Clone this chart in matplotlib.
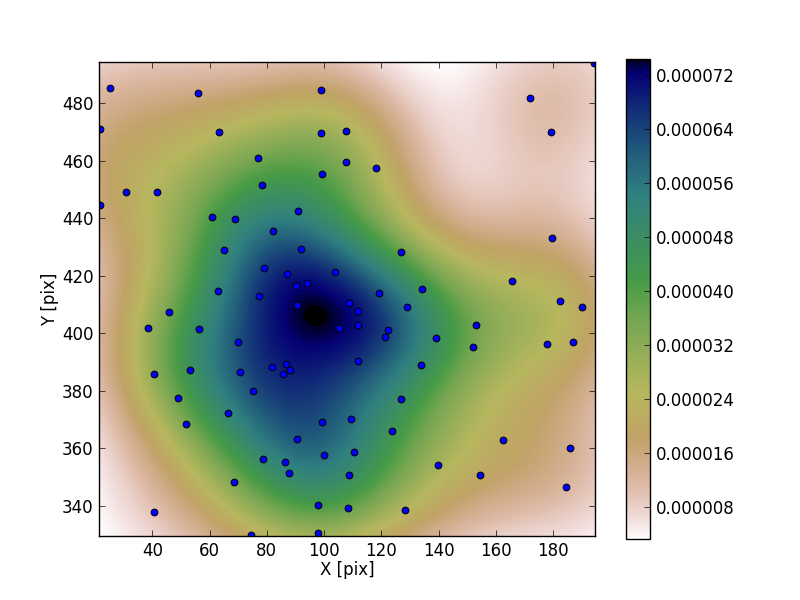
import numpy as np
import matplotlib
matplotlib.use('Agg')
import matplotlib.pyplot as plt

plt.style.use('classic')
plt.rcParams['ytick.alignment'] = 'center_baseline'

x_pix = [25.2, 55.9, 98.8, 21.7, 63.3, 98.8, 107.8, 76.9, 107.6, 99.2, 78.3, 30.8, 41.6, 21.7,
         90.8, 60.8, 68.8, 82.1, 91.9, 65.0, 79.0, 87.0, 103.7, 94.0, 90.1, 62.9, 77.2, 90.5,
         171.9, 179.2, 118.1, 179.5, 126.9, 165.6, 134.2, 119.2, 182.3, 190.0, 108.6, 129.0, 194.4,
         111.7, 111.7, 153.1, 122.3, 121.3, 105.1, 139.1, 152.0, 177.8, 186.9, 112.0, 133.9, 126.9,
         109.5, 123.7, 162.4, 185.8, 110.5, 139.8, 108.7, 154.4, 184.4, 108.4, 128.3,
         45.8, 38.5, 56.3, 69.9, 81.7, 86.6, 88.0, 85.6, 70.6, 53.1, 40.6, 75.1, 49.0, 66.4, 51.7,
         99.2, 90.5, 99.9, 78.6, 86.3, 87.7, 68.5, 97.8, 40.6, 74.4, 97.8]
y_pix = [485.2, 483.5, 484.5, 471.1, 469.9, 469.6, 470.3, 460.9, 459.5, 455.3, 451.5, 449.1, 449.1, 444.5,
         442.5, 440.4, 439.7, 435.5, 429.2, 428.9, 422.6, 420.6, 421.3, 417.4, 416.4, 414.6, 412.9, 409.7,
         481.7, 469.9, 457.4, 433.1, 428.2, 418.1, 415.3, 414.0, 411.2, 409.0, 410.4, 409.0, 493.9,
         407.6, 402.8, 402.8, 401.0, 398.6, 401.7, 398.3, 395.1, 396.2, 396.9, 390.3, 388.9, 377.1,
         370.2, 366.0, 362.9, 360.1, 358.7, 354.2, 350.8, 350.8, 346.6, 339.3, 338.6,
         407.3, 401.7, 401.4, 397.0, 388.2, 389.2, 387.2, 385.8, 386.5, 387.2, 385.8, 379.9, 377.5, 372.3, 368.4,
         369.1, 363.2, 357.6, 356.2, 355.3, 351.2, 348.1, 340.3, 337.6, 329.7, 330.3]
x_range = [21.4, 194.6]
y_range = [329.4, 494.4]
cbar_ticks = [0.000008, 0.000016, 0.000024, 0.000032, 0.000040, 0.000048, 0.000056, 0.000064, 0.000072]
cbar_range = [3.3e-6, 7.44e-5]


def gaussian_kde_grid(x, y, xgrid, ygrid):
    # same thing as scipy gaussian_kde with the scott factor
    data = np.vstack([x, y])
    n = data.shape[1]
    cov = np.cov(data) * n ** (-2. / 6.)
    inv = np.linalg.inv(cov)
    norm = 2 * np.pi * np.sqrt(np.linalg.det(cov)) * n
    gx, gy = np.meshgrid(xgrid, ygrid)
    density = np.zeros_like(gx)
    for i in range(n):
        dx = gx - data[0, i]
        dy = gy - data[1, i]
        density += np.exp(-0.5 * (inv[0, 0] * dx * dx + 2 * inv[0, 1] * dx * dy + inv[1, 1] * dy * dy))
    return density / norm


xgrid = np.linspace(x_range[0], x_range[1], 100)
ygrid = np.linspace(y_range[0], y_range[1], 100)
density = gaussian_kde_grid(x_pix, y_pix, xgrid, ygrid)

fig = plt.figure(figsize=(8, 6), dpi=100)
ax = fig.add_axes([99 / 800., 1 - 536 / 600., 496 / 800., 474 / 600.])
im = ax.imshow(density, origin='lower', cmap='gist_earth_r', aspect='auto',
               extent=[x_range[0], x_range[1], y_range[0], y_range[1]],
               vmin=cbar_range[0], vmax=cbar_range[1], interpolation='bilinear')
ax.scatter(x_pix, y_pix, c='b', s=24, linewidths=0.7)
ax.set_xlim(x_range)
ax.set_ylim(y_range)
ax.set_xticks(np.arange(40, 181, 20))
ax.set_yticks(np.arange(340, 481, 20))
ax.set_xlabel('X [pix]', labelpad=0.7)
ax.set_ylabel('Y [pix]', labelpad=2)

cax = fig.add_axes([626 / 800., 1 - 539 / 600., 24 / 800., 480 / 600.])
cbar = fig.colorbar(im, cax=cax, ticks=cbar_ticks, format='%.6f')

fig.savefig('out.png', dpi=100)
